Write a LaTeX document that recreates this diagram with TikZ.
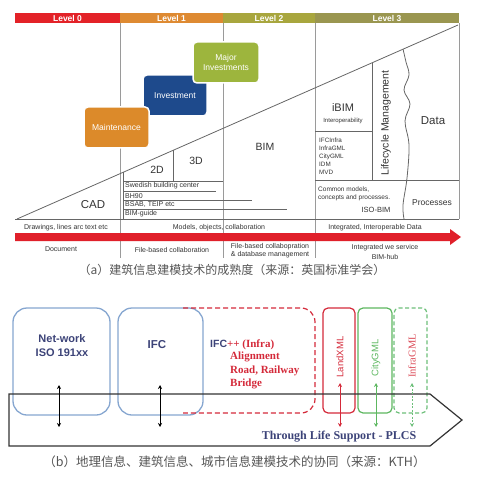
\documentclass[tikz,border=0pt]{standalone}
\usepackage{fontspec}
\setmainfont{Liberation Sans}
\newfontfamily\serifb{Liberation Serif}
\newfontfamily\cjk{Noto Sans CJK SC}
\usetikzlibrary{arrows.meta}
\definecolor{lvzero}{HTML}{E32228}
\definecolor{lvone}{HTML}{DE8A32}
\definecolor{lvtwo}{HTML}{A8A63E}
\definecolor{lvthree}{HTML}{9A9650}
\definecolor{maintc}{HTML}{DC8A2A}
\definecolor{investc}{HTML}{1E4A8C}
\definecolor{majorc}{HTML}{9DB53D}
\definecolor{gridc}{HTML}{9A9A9A}
\definecolor{linec}{HTML}{666666}
\definecolor{txtc}{HTML}{333333}
\definecolor{arrred}{HTML}{E0202A}
\definecolor{capc}{HTML}{555555}
\definecolor{blueb}{HTML}{86A6D0}
\definecolor{navyc}{HTML}{3C4378}
\definecolor{redb}{HTML}{D42A3A}
\definecolor{greenb}{HTML}{5DB760}
\definecolor{greend}{HTML}{6DBF7A}
\begin{document}
\begin{tikzpicture}[x=1pt,y=-1pt,
  lbar/.style={minimum height=10pt, inner sep=0pt, outer sep=0pt, text=white,
    font=\bfseries\fontsize{8.5}{9}\selectfont},
  pbox/.style={rounded corners=4pt, draw=white, line width=1.5pt, text=white,
    inner sep=0pt, align=center, font=\fontsize{8.5}{10.5}\selectfont},
  grid/.style={draw=gridc, line width=0.6pt},
  dline/.style={draw=linec, line width=0.8pt},
  ulin/.style={draw=linec, line width=0.6pt},
  t/.style={inner sep=0pt, text=txtc},
  sm/.style={t, font=\fontsize{7}{8}\selectfont},
  bluebox/.style={draw=blueb, line width=1.3pt, rounded corners=14pt},
  dbl/.style={{Stealth[length=4pt,width=4pt]}-{Stealth[length=4pt,width=4pt]}, line width=0.9pt}
]
\useasboundingbox (0,0) rectangle (477,478);

% ---------- (a) ----------
% level bars
\node[lbar, fill=lvzero, minimum width=105pt] (L0) at (67.5,18) {Level 0};
\node[lbar, fill=lvone, minimum width=103pt] (L1) at (171.5,18) {Level 1};
\node[lbar, fill=lvtwo, minimum width=92pt] (L2) at (269,18) {Level 2};
\node[lbar, fill=lvthree, minimum width=144pt] (L3) at (387,18) {Level 3};

% grid verticals
\draw[grid] (120,23) -- (120,258);
\draw[grid] (223,23) -- (223,258);
\draw[grid] (315,23) -- (315,258);
\draw[grid] (459,23) -- (459,219);

% baseline and diagonal
\draw[dline] (15,219) -- (459,219);
\coordinate (dl) at (17,219);
\coordinate (dr) at (458,25);
\draw[dline] (dl) -- (dr);

% level 1 boxes
\draw[dline] (123,172.4) -- (123,219);
\draw[dline] (173,150.4) -- (173,181);
\draw[dline] (123,181) -- (223,181);
\draw[ulin] (123,191) -- (216,191);
\draw[ulin] (123,200.5) -- (252,200.5);
\draw[ulin] (123,209) -- (287,209);

% level 3 boxes
\draw[dline] (315,131) -- (372,131);
\draw[dline] (372,62.8) -- (372,180);
\draw[dline] (315,180) -- (459,180);
\draw[dline] plot[smooth, tension=0.6] coordinates {(403,49) (406,62) (409,75) (404,90) (410,104) (405,121) (409,145) (407,178) (403,205) (404,219)};

% stage boxes
\node[pbox, fill=investc, minimum width=64pt, minimum height=41pt] (inv) at (175,95.5) {Investment};
\node[pbox, fill=maintc, minimum width=65pt, minimum height=41pt] (maint) at (116.5,127.5) {Maintenance};
\node[pbox, fill=majorc, minimum width=66pt, minimum height=41pt] (major) at (226,62.5) {Major\\Investments};

% texts in triangle
\node[t, font=\fontsize{11.5}{12}\selectfont] (cad) at (93,205) {CAD};
\node[t, font=\fontsize{10.5}{12}\selectfont] (twod) at (157,170) {2D};
\node[t, font=\fontsize{10.5}{12}\selectfont] (threed) at (196,161) {3D};
\node[sm, anchor=west] (swe) at (125,186) {Swedish building center};
\node[sm, anchor=west] (bh) at (125,196) {BH90};
\node[sm, anchor=west] (bsab) at (125,205) {BSAB, TEIP etc};
\node[sm, anchor=west] (bimg) at (125,214) {BIM-guide};
\node[t, font=\fontsize{10.5}{12}\selectfont] (bim) at (265,147) {BIM};
\node[t, font=\fontsize{11}{12}\selectfont] (ibim) at (343,108) {iBIM};
\node[t, font=\fontsize{6}{7}\selectfont] (interop) at (343,121) {Interoperability};
\node[t, anchor=west, align=left, font=\fontsize{6.3}{8}\selectfont] (ifclist) at (319,156) {IFCInfra\\InfraGML\\CityGML\\IDM\\MVD};
\node[t, rotate=90, font=\fontsize{10.5}{12}\selectfont] (life) at (386,123) {Lifecycle Management};
\node[t, font=\fontsize{11.5}{12}\selectfont] (data) at (433,121) {Data};
\node[t, anchor=west, align=left, font=\fontsize{6.5}{8}\selectfont] (common) at (318,194) {Common models,\\concepts and processes.};
\node[t, font=\fontsize{7.5}{9}\selectfont] (isobim) at (376,210) {ISO-BIM};
\node[t, font=\fontsize{8.5}{10}\selectfont] (proc) at (432,203) {Processes};

% row labels
\node[sm] (draw0) at (66,228) {Drawings, lines arc text etc};
\node[sm] (models) at (219,228) {Models, objects, collaboration};
\node[sm] (integ) at (375,228) {Integrated, Interoperable Data};

% red arrow
\fill[arrred] (15,233) -- (450,233) -- (450,229) -- (461,237) -- (450,245) -- (450,241) -- (15,241) -- cycle;

% bottom labels
\node[sm] (doc) at (61,249) {Document};
\node[sm] (fbc) at (172,250) {File-based collaboration};
\node[sm, align=center, font=\fontsize{7}{8}\selectfont] (fbd) at (270,251) {File-based collabopration\\\& database management};
\node[sm, align=center, font=\fontsize{7}{9.5}\selectfont] (iws) at (385,252) {Integrated we service\\BIM-hub};

% caption a
\node[inner sep=0pt, text=capc, font=\cjk\fontsize{12}{13}\selectfont] (capa) at (232,270) {（a）建筑信息建模技术的成熟度（来源：英国标准学会）};

% ---------- (b) ----------
\node[bluebox, minimum width=97pt, minimum height=107pt] (net) at (61.5,361.5) {};
\node[bluebox, minimum width=85pt, minimum height=107pt] (ifc) at (160.5,361.5) {};
\draw[redb, line width=1.2pt, dash pattern=on 5pt off 3pt, rounded corners=14pt] (183,308) -- (315,308) -- (315,413) -- (183,413);
\node[draw=redb, line width=1.2pt, rounded corners=5pt, minimum width=32pt, minimum height=105pt] (land) at (339,360.5) {};
\node[draw=greenb, line width=1.2pt, rounded corners=5pt, minimum width=34pt, minimum height=105pt] (city) at (375,360.5) {};
\node[draw=greend, line width=1.2pt, dash pattern=on 4pt off 2.5pt, rounded corners=5pt, minimum width=33pt, minimum height=105pt] (infra) at (410.5,360.5) {};

% big arrow outline
\draw[draw=black!80, line width=1.2pt] (9,394) -- (430,394) -- (462,420) -- (430,446) -- (9,446) -- cycle;

% texts
\node[inner sep=0pt, text=navyc, align=center, font=\bfseries\fontsize{11}{13.5}\selectfont] (nettxt) at (62,345.5) {Net-work\\ISO 191xx};
\node[inner sep=0pt, text=navyc, font=\bfseries\fontsize{11.5}{13}\selectfont] (ifctxt) at (157,345) {IFC};
\node[inner sep=0pt, anchor=west] (ifcpp) at (210,345) {{\color{navyc}\bfseries\fontsize{10.5}{12}\selectfont IFC}{\serifb\bfseries\color{redb}\fontsize{11}{12}\selectfont ++ (Infra)}};
\node[inner sep=0pt, anchor=west, align=left, text=redb, font=\serifb\bfseries\fontsize{11}{13.5}\selectfont] (align) at (230,370.5) {Alignment\\Road, Railway\\Bridge};
\node[inner sep=0pt, rotate=90, text=redb, font=\fontsize{9.5}{10}\selectfont] (landtxt) at (340,357) {LandXML};
\node[inner sep=0pt, rotate=90, text=greenb, font=\fontsize{9.5}{10}\selectfont] (citytxt) at (376,358) {CityGML};
\node[inner sep=0pt, rotate=90, text=redb!85, font=\serifb\fontsize{10.5}{11}\selectfont] (infratxt) at (412,356) {InfraGML};
\node[inner sep=0pt, text=navyc, font=\serifb\bfseries\fontsize{12}{13}\selectfont] (plcs) at (339,437) {Through Life Support - PLCS};

% double arrows
\coordinate (a1t) at (59,385); \coordinate (a1b) at (59,427);
\coordinate (a2t) at (160,385); \coordinate (a2b) at (160,427);
\coordinate (a3t) at (340,383); \coordinate (a3b) at (340,427);
\coordinate (a4t) at (376,383); \coordinate (a4b) at (376,427);
\coordinate (a5t) at (412,383); \coordinate (a5b) at (412,427);
\draw[dbl, black] (a1t) -- (a1b);
\draw[dbl, black] (a2t) -- (a2b);
\draw[dbl, redb] (a3t) -- (a3b);
\draw[dbl, greenb] (a4t) -- (a4b);
\draw[dbl, greend, dash pattern=on 2pt off 1.5pt] (a5t) -- (a5b);

% caption b
\node[inner sep=0pt, text=capc, font=\cjk\fontsize{12.5}{14}\selectfont] (capb) at (234.5,462) {（b）地理信息、建筑信息、城市信息建模技术的协同（来源：KTH）};
\end{tikzpicture}
\end{document}
